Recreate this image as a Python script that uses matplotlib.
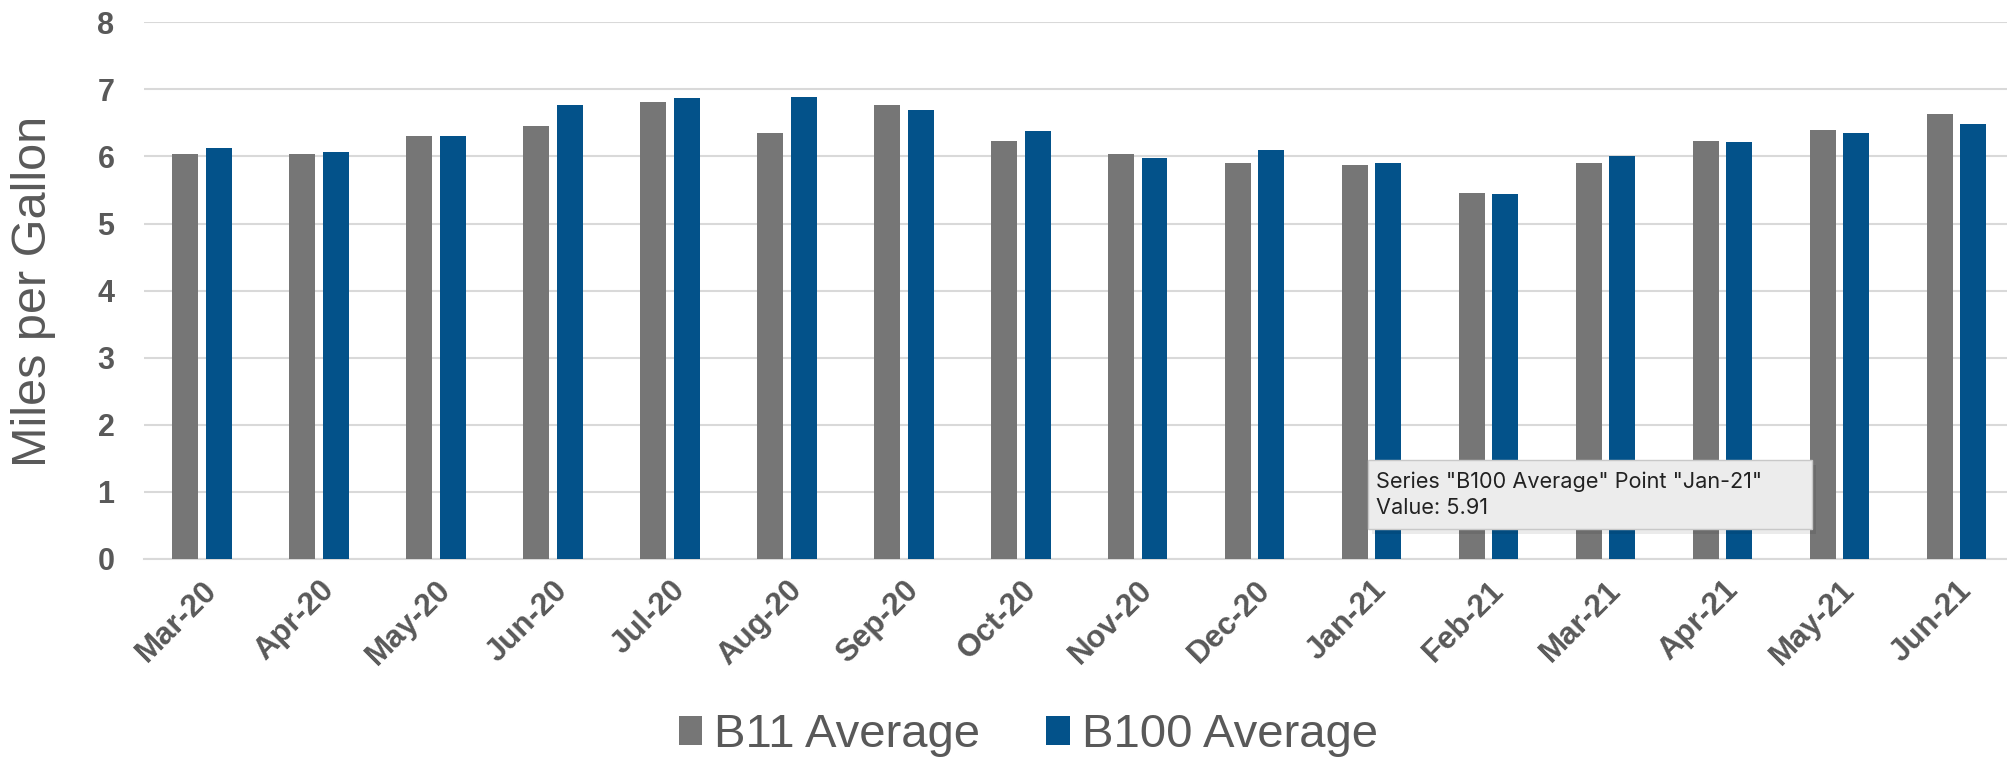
import numpy as np
import matplotlib
matplotlib.use('Agg')
import matplotlib.pyplot as plt
from matplotlib.patches import Rectangle

plt.rcParams['font.family'] = ['Liberation Sans', 'DejaVu Sans']

# monthly averages (miles per gallon)
months = ['Mar-20', 'Apr-20', 'May-20', 'Jun-20', 'Jul-20', 'Aug-20', 'Sep-20', 'Oct-20',
          'Nov-20', 'Dec-20', 'Jan-21', 'Feb-21', 'Mar-21', 'Apr-21', 'May-21', 'Jun-21']
b11_avg = [6.04, 6.04, 6.30, 6.46, 6.82, 6.35, 6.77, 6.23,
           6.03, 5.90, 5.88, 5.46, 5.91, 6.23, 6.40, 6.64]
b100_avg = [6.12, 6.07, 6.30, 6.77, 6.87, 6.89, 6.69, 6.38,
            5.98, 6.09, 5.91, 5.44, 6.01, 6.22, 6.35, 6.49]
y_ticks = [0, 1, 2, 3, 4, 5, 6, 7, 8]

text_gray = '#595959'
gray = '#767676'
blue = '#03528a'

fig = plt.figure(figsize=(20.08, 7.62), dpi=100)
ax = fig.add_axes([0.0715, 0.267, 0.9285, 0.7035])

x = np.arange(len(months))
w = 0.222
ax.bar(x - 0.143, b11_avg, width=w, color=gray, label='B11 Average', zorder=3)
ax.bar(x + 0.143, b100_avg, width=w, color=blue, label='B100 Average', zorder=3)

ax.set_xlim(-0.5, 15.44)
ax.set_ylim(0, 8)
ax.set_yticks(y_ticks)
ax.set_yticklabels([str(t) for t in y_ticks], fontsize=22, fontweight='bold', color=text_gray)
ax.set_xticks(x)
ax.set_xticklabels(months, rotation=45, ha='right', rotation_mode='anchor',
                   fontsize=22.5, fontweight='bold', color=text_gray)
ax.tick_params(axis='y', length=0, pad=21)
ax.tick_params(axis='x', length=0, pad=12)
ax.grid(axis='y', color='#d9d9d9', linewidth=1.5, zorder=0)
for s in ['top', 'right', 'left']:
    ax.spines[s].set_visible(False)
ax.spines['bottom'].set_color('#d9d9d9')
ax.spines['bottom'].set_linewidth(1.5)

fig.text(0.0165, 0.617, 'Miles per Gallon', rotation=90, ha='center', va='center',
         fontsize=35, color=text_gray)

fig.legend(loc='center', bbox_to_anchor=(0.512, 0.035), ncol=2, frameon=False,
           fontsize=34, labelcolor=text_gray, handlelength=0.5, handleheight=0.55,
           handletextpad=0.25, columnspacing=1.4)

# hover tooltip left in the screenshot
bx0, by0 = 1368 / 2008, 1 - 529 / 762
bw, bh = (1812 - 1368) / 2008, (529 - 460) / 762
fig.patches.append(Rectangle((bx0 + 0.002, by0 - 0.006), bw, bh, transform=fig.transFigure,
                             facecolor='#000000', alpha=0.08, edgecolor='none', zorder=9))
fig.patches.append(Rectangle((bx0, by0), bw, bh, transform=fig.transFigure,
                             facecolor='#ececec', edgecolor='#c8c8c8', linewidth=1, zorder=10))
fig.text(bx0 + 0.004, by0 + bh * 0.5, 'Series "B100 Average" Point "Jan-21"\nValue: 5.91',
         ha='left', va='center', fontsize=15.6, color='#222222', linespacing=1.4,
         family=['Inter', 'DejaVu Sans'], zorder=11)

fig.savefig('out.png', dpi=100)
